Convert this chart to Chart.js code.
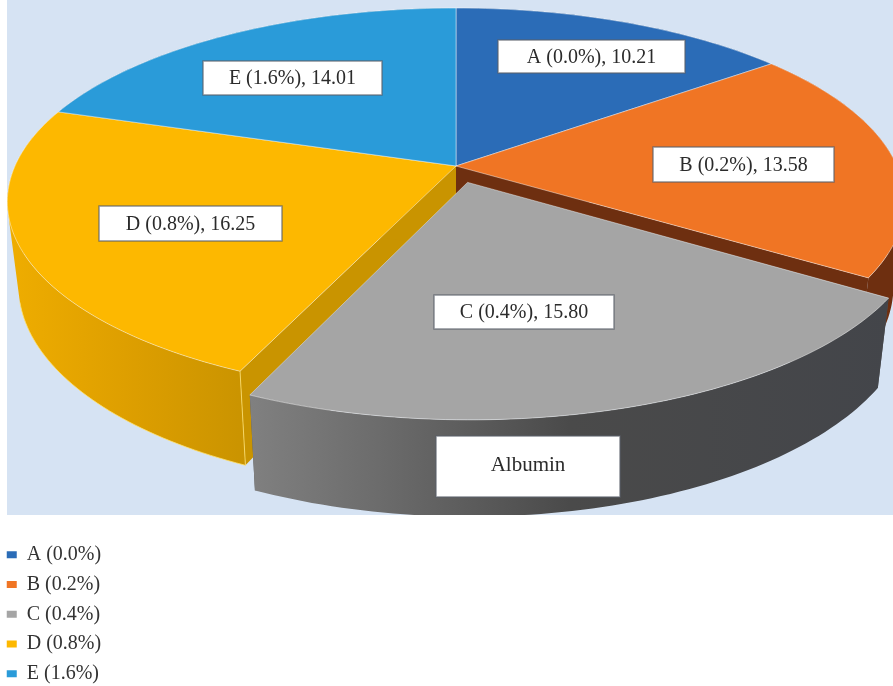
<!DOCTYPE html>
<html>
<head>
<meta charset="utf-8">
<title>Albumin</title>
<script src="https://cdn.jsdelivr.net/npm/chart.js@4/dist/chart.umd.min.js"></script>
<style>
  html, body { margin: 0; background: #fff; }
  canvas { display: block; }
</style>
</head>
<body>
<canvas id="myChart" width="893" height="686"></canvas>
<script>
const seriesName = 'Albumin'
const categories = ['A (0.0%)', 'B (0.2%)', 'C (0.4%)', 'D (0.8%)', 'E (1.6%)']
const values = [10.21, 13.58, 15.80, 16.25, 14.01]
const colors = ['#2b6cb7', '#f07524', '#a5a5a5', '#fdb800', '#2a9bd9']

// pulled-out slice, as a fraction of the radius
const explode = [0, 0, 0.09, 0, 0]

// the pie plane seen in perspective
const cx = 456, cy = 166
const radiusX = 441, radiusY = 187, persp = 0.184
const wallDrop = 82.5, wallShrink = 0.975

// label boxes: x, y, w, h
const labelBoxes = [
    [498, 40, 187, 33],
    [653, 147, 181, 35],
    [434, 295, 180, 34],
    [99, 206, 183, 35],
    [203, 61, 179, 34]
]
const nameBox = [436, 436, 184, 61]

const serif = '"Liberation Serif", serif'

function project(u, v, lower) {
    const w = 1 - persp * v
    let x = radiusX * u / w
    let y = radiusY * v / w
    if (lower) {
        x *= wallShrink
        y = y * wallShrink + wallDrop / w
    }
    return [cx + x, cy + y]
}

// walk along an arc element's angles, in plane coordinates
function sliceRim(arc, i) {
    const mid = (arc.startAngle + arc.endAngle) / 2
    const ox = Math.cos(mid) * explode[i]
    const oy = Math.sin(mid) * explode[i]
    const rim = []
    const steps = Math.ceil((arc.endAngle - arc.startAngle) / 0.02)
    for (let s = 0; s <= steps; s++) {
        const a = arc.startAngle + (arc.endAngle - arc.startAngle) * s / steps
        rim.push([ox + Math.cos(a), oy + Math.sin(a)])
    }
    return { rim, hub: [ox, oy] }
}

function tracePath(ctx, pts) {
    ctx.beginPath()
    addPoly(ctx, pts)
}

function addPoly(ctx, pts) {
    pts.forEach((p, n) => n ? ctx.lineTo(p[0], p[1]) : ctx.moveTo(p[0], p[1]))
    ctx.closePath()
}

function signedArea(pts) {
    let s = 0
    pts.forEach((p, n) => {
        const q = pts[(n + 1) % pts.length]
        s += p[0] * q[1] - q[0] * p[1]
    })
    return s
}

function wallStyle(ctx, i) {
    let g
    if (i === 2) {
        g = ctx.createLinearGradient(250, 0, 890, 0)
        g.addColorStop(0, '#808080')
        g.addColorStop(0.2, '#6c6c6c')
        g.addColorStop(0.5, '#4a4a4a')
        g.addColorStop(1, '#43454a')
        return g
    }
    if (i === 3) {
        g = ctx.createLinearGradient(0, 0, 250, 0)
        g.addColorStop(0, '#f0ae00')
        g.addColorStop(0.5, '#de9f00')
        g.addColorStop(1, '#c99300')
        return g
    }
    return ['#1f4f88', '#6e2f10', '', '', '#1f6f9f'][i]
}

function drawWall(ctx, part, i) {
    // cut faces running back to the hub
    ctx.fillStyle = ['#1f4f88', '#6e2f10', '#555555', '#c99400', '#1f6f9f'][i]
    const ends = [part.rim[0], part.rim[part.rim.length - 1]]
    ends.forEach(e => {
        tracePath(ctx, [
            project(part.hub[0], part.hub[1], false),
            project(e[0], e[1], false),
            project(e[0], e[1], true),
            project(part.hub[0], part.hub[1], true)
        ])
        ctx.fill()
    })

    // outer wall, one quad per rim step, all wound the same way
    ctx.beginPath()
    for (let n = 0; n + 1 < part.rim.length; n++) {
        const a = part.rim[n], b = part.rim[n + 1]
        let quad = [
            project(a[0], a[1], false),
            project(b[0], b[1], false),
            project(b[0], b[1], true),
            project(a[0], a[1], true)
        ]
        if (signedArea(quad) < 0) quad = quad.reverse()
        addPoly(ctx, quad)
    }
    ctx.fillStyle = wallStyle(ctx, i)
    ctx.fill()

    if (i === 3) {
        // pale line down the front corner and along the visible lower edge
        const e = part.rim[0]
        const p = project(e[0], e[1], false), q = project(e[0], e[1], true)
        ctx.strokeStyle = 'rgba(255,225,110,0.8)'
        ctx.lineWidth = 1
        ctx.beginPath()
        ctx.moveTo(p[0], p[1])
        ctx.lineTo(q[0], q[1])
        part.rim.filter(r => r[1] > 0.25).forEach(r => {
            const s = project(r[0], r[1], true)
            ctx.lineTo(s[0], s[1])
        })
        ctx.stroke()
    }
}

const pie3d = {
    id: 'pie3d',
    beforeDraw(chart) {
        const ctx = chart.ctx
        ctx.fillStyle = '#d6e3f3'
        ctx.fillRect(7, 0, 886, 515)
    },
    beforeDatasetsDraw(chart) {
        const ctx = chart.ctx
        const arcs = chart.getDatasetMeta(0).data
        const parts = arcs.map((arc, i) => sliceRim(arc, i))

        ctx.save()
        ctx.beginPath()
        ctx.rect(7, 0, 886, 515)
        ctx.clip()

        // back to front
        ;[4, 0, 1, 3, 2].forEach(i => drawWall(ctx, parts[i], i))

        parts.forEach((part, i) => {
            const pts = [part.hub].concat(part.rim).map(p => project(p[0], p[1], false))
            tracePath(ctx, pts)
            ctx.fillStyle = arcs[i].options.backgroundColor
            ctx.fill()
            ctx.strokeStyle = 'rgba(255,255,255,0.45)'
            ctx.lineWidth = 1
            ctx.stroke()
        })
        ctx.restore()

        // value labels
        ctx.font = '20px ' + serif
        ctx.textAlign = 'center'
        ctx.textBaseline = 'middle'
        labelBoxes.forEach((b, i) => {
            drawBox(ctx, b)
            ctx.fillStyle = '#2b2b2b'
            ctx.fillText(categories[i] + ', ' + values[i].toFixed(2), b[0] + b[2] / 2, b[1] + b[3] / 2 + 1)
        })
        drawBox(ctx, nameBox)
        ctx.fillStyle = '#2b2b2b'
        ctx.font = '21px ' + serif
        ctx.fillText(seriesName, nameBox[0] + nameBox[2] / 2, nameBox[1] + nameBox[3] / 2 - 1)

        return false
    }
}

function drawBox(ctx, b) {
    ctx.fillStyle = '#fff'
    ctx.fillRect(b[0], b[1], b[2], b[3])
    ctx.strokeStyle = 'rgba(90,95,105,0.7)'
    ctx.lineWidth = 1.5
    ctx.strokeRect(b[0], b[1], b[2], b[3])
}

const ctx = document.getElementById('myChart')

new Chart(ctx, {
    type: 'pie',
    data: {
        labels: categories,
        datasets: [{
            label: seriesName,
            data: values,
            backgroundColor: colors,
            borderWidth: 0
        }]
    },
    options: {
        responsive: false,
        animation: false,
        layout: { padding: { left: -3, bottom: -7.5 } },
        plugins: {
            tooltip: { enabled: false },
            legend: {
                position: 'left',
                align: 'end',
                labels: {
                    boxWidth: 10,
                    boxHeight: 7,
                    padding: 9.75,
                    color: '#333',
                    font: { family: serif, size: 20 }
                }
            }
        }
    },
    plugins: [pie3d]
})
</script>
</body>
</html>
